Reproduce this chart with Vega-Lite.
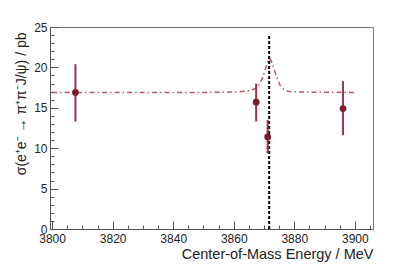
{
  "$schema": "https://vega.github.io/schema/vega-lite/v6.json",
  "width": 323,
  "height": 202,
  "autosize": "none",
  "padding": {"left": 50, "top": 27, "right": 42, "bottom": 40},
  "background": "white",
  "config": {
    "view": {"stroke": "#777", "strokeWidth": 1},
    "font": "Liberation Sans",
    "axis": {
      "domainColor": "#555",
      "tickColor": "#555",
      "labelColor": "#222",
      "titleColor": "#222",
      "labelFont": "Liberation Sans",
      "titleFont": "Liberation Sans",
      "labelFontSize": 12,
      "titleFontSize": 13,
      "titleFontWeight": "normal",
      "grid": false
    }
  },
  "datasets": {
    "curve": [
      {"E": 3800, "s": 16.9},
      {"E": 3850, "s": 16.9},
      {"E": 3860, "s": 16.95},
      {"E": 3864, "s": 17.05},
      {"E": 3866, "s": 17.2},
      {"E": 3867.5, "s": 17.45},
      {"E": 3868.5, "s": 17.9},
      {"E": 3869.5, "s": 18.7},
      {"E": 3870.5, "s": 19.8},
      {"E": 3871.3, "s": 20.8},
      {"E": 3871.8, "s": 21.1},
      {"E": 3872.4, "s": 20.8},
      {"E": 3873.3, "s": 19.8},
      {"E": 3874.3, "s": 18.7},
      {"E": 3875.3, "s": 17.8},
      {"E": 3876.5, "s": 17.3},
      {"E": 3878, "s": 17.05},
      {"E": 3882, "s": 16.95},
      {"E": 3900, "s": 16.9}
    ],
    "pts": [
      {"E": 3807.7, "s": 16.9, "lo": 13.3, "hi": 20.4},
      {"E": 3867.4, "s": 15.7, "lo": 13.3, "hi": 18.0},
      {"E": 3871.2, "s": 11.4, "lo": 9.4, "hi": 13.5},
      {"E": 3896.1, "s": 14.9, "lo": 11.6, "hi": 18.3}
    ],
    "vline": [
      {"E": 3871.7, "y0": 0, "y1": 23.9}
    ]
  },
  "resolve": {"axis": {"x": "independent", "y": "independent"}},
  "layer": [
    {
      "data": {"name": "curve"},
      "mark": {"type": "line", "color": "#a83a4c", "strokeWidth": 1.5, "strokeDash": [5, 3, 1.5, 3], "opacity": 0.85},
      "encoding": {
        "x": {
          "field": "E", "type": "quantitative",
          "scale": {"domain": [3799.3, 3906], "nice": false, "zero": false},
          "axis": {
            "orient": "bottom",
            "title": "Center-of-Mass Energy / MeV",
            "titleAnchor": "end",
            "titleFontSize": 14.5,
            "titlePadding": 3,
            "values": [3800, 3820, 3840, 3860, 3880, 3900],
            "format": "d",
            "tickSize": -8,
            "labelPadding": 12,
            "labelFlush": false,
            "labelOverlap": false
          }
        },
        "y": {
          "field": "s", "type": "quantitative",
          "scale": {"domain": [0, 25], "nice": false},
          "axis": {
            "orient": "left",
            "title": "σ(e⁺e⁻ → π⁺π⁻J/ψ) / pb",
            "titleAnchor": "end",
            "titleAlign": "right",
            "titleY": 5,
            "titleFontSize": 14,
            "titlePadding": 5,
            "values": [0, 5, 10, 15, 20, 25],
            "format": "d",
            "tickSize": -8,
            "labelPadding": 11,
            "labelFlush": false,
            "labelOverlap": false
          }
        }
      }
    },
    {
      "data": {"name": "vline"},
      "mark": {"type": "rule", "color": "black", "strokeWidth": 2, "strokeDash": [3, 2]},
      "encoding": {
        "x": {
          "field": "E", "type": "quantitative",
          "axis": {
            "orient": "bottom", "title": null, "labels": false, "domain": false,
            "values": [3805, 3810, 3815, 3825, 3830, 3835, 3845, 3850, 3855, 3865, 3870, 3875, 3885, 3890, 3895, 3905],
            "tickSize": -4
          }
        },
        "y": {
          "field": "y0", "type": "quantitative",
          "axis": {
            "orient": "left", "title": null, "labels": false, "domain": false,
            "values": [1,2,3,4,6,7,8,9,11,12,13,14,16,17,18,19,21,22,23,24],
            "tickSize": -4
          }
        },
        "y2": {"field": "y1"}
      }
    },
    {
      "data": {"name": "pts"},
      "mark": {"type": "rule", "color": "#8e1f33", "strokeWidth": 2, "opacity": 0.9},
      "encoding": {
        "x": {"field": "E", "type": "quantitative", "axis": null},
        "y": {"field": "lo", "type": "quantitative", "axis": null},
        "y2": {"field": "hi"}
      }
    },
    {
      "data": {"name": "pts"},
      "mark": {"type": "circle", "color": "#7e1a2c", "size": 45, "opacity": 1},
      "encoding": {
        "x": {"field": "E", "type": "quantitative", "axis": null},
        "y": {"field": "s", "type": "quantitative", "axis": null}
      }
    }
  ]
}
